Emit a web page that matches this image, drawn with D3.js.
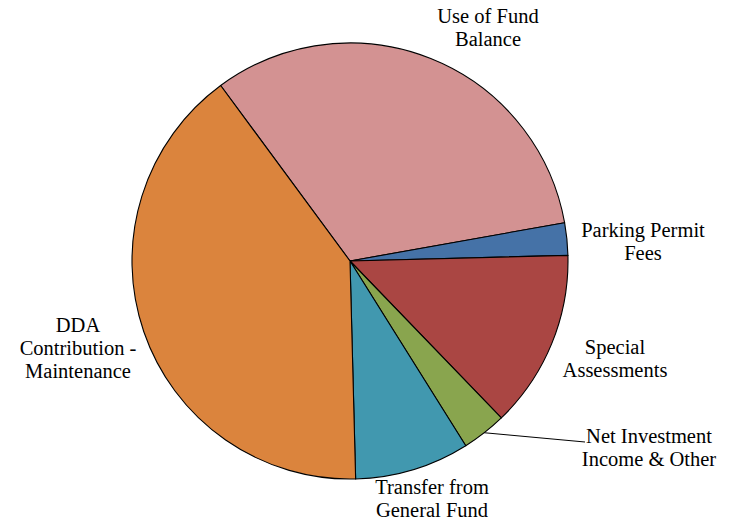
<!DOCTYPE html>
<html>
<head>
<meta charset="utf-8">
<script src="https://cdn.jsdelivr.net/npm/d3@7"></script>
<style>
  html, body { margin: 0; padding: 0; background: #fff; }
  svg { display: block; }
</style>
</head>
<body>
<svg id="chart" width="729" height="522"></svg>
<script>
// Revenue sources, share of total (%)
const categories = [
  "Use of Fund Balance",
  "Parking Permit Fees",
  "Special Assessments",
  "Net Investment Income & Other",
  "Transfer from General Fund",
  "DDA Contribution - Maintenance"
];
const shares = [32.3, 2.4, 13.2, 3.3, 8.5, 40.3];
const colors = ["#D39292", "#4572A7", "#AA4643", "#89A54E", "#4198AF", "#DB843D"];

// Label text lines and anchor positions
const labelLines = [
  ["Use of Fund", "Balance"],
  ["Parking Permit", "Fees"],
  ["Special", "Assessments"],
  ["Net Investment", "Income & Other"],
  ["Transfer from", "General Fund"],
  ["DDA", "Contribution -", "Maintenance"]
];
const labelPos = [[488, 23], [643, 237], [615, 354], [649, 443], [432, 494], [78, 332]];
const leaderSlices = [3];
const leaderEnds = [[585, 442]];

const svg = d3.select("#chart");
const cx = 350, cy = 261, r = 218;
const g = svg.append("g").attr("transform", `translate(${cx},${cy})`);

const pie = d3.pie()
  .sort(null)
  .value(d => d)
  .startAngle(-36.4 * Math.PI / 180)
  .endAngle((360 - 36.4) * Math.PI / 180);
const arcs = pie(shares);
const arc = d3.arc().innerRadius(0).outerRadius(r);

g.selectAll("path.slice")
  .data(arcs)
  .join("path")
  .attr("class", "slice")
  .attr("d", arc)
  .attr("fill", (d, i) => colors[i])
  .attr("stroke", "#000")
  .attr("stroke-width", 1.1)
  .attr("stroke-linejoin", "round");

// Leader lines from slice rim to label
leaderSlices.forEach((si, k) => {
  const a = (arcs[si].startAngle + arcs[si].endAngle) / 2;
  const x0 = cx + r * Math.sin(a), y0 = cy - r * Math.cos(a);
  svg.append("line")
    .attr("x1", x0).attr("y1", y0)
    .attr("x2", leaderEnds[k][0]).attr("y2", leaderEnds[k][1])
    .attr("stroke", "#000").attr("stroke-width", 1);
});

const lineH = 23;
labelLines.forEach((lines, i) => {
  const t = svg.append("text")
    .attr("font-family", "'Liberation Serif', 'Times New Roman', 'DejaVu Serif', serif")
    .attr("font-size", "20.5px")
    .attr("fill", "#000")
    .attr("text-anchor", "middle")
    .attr("x", labelPos[i][0])
    .attr("y", labelPos[i][1]);
  lines.forEach((s, j) => {
    t.append("tspan")
      .attr("x", labelPos[i][0])
      .attr("y", labelPos[i][1] + j * lineH)
      .text(s);
  });
});
</script>
</body>
</html>
